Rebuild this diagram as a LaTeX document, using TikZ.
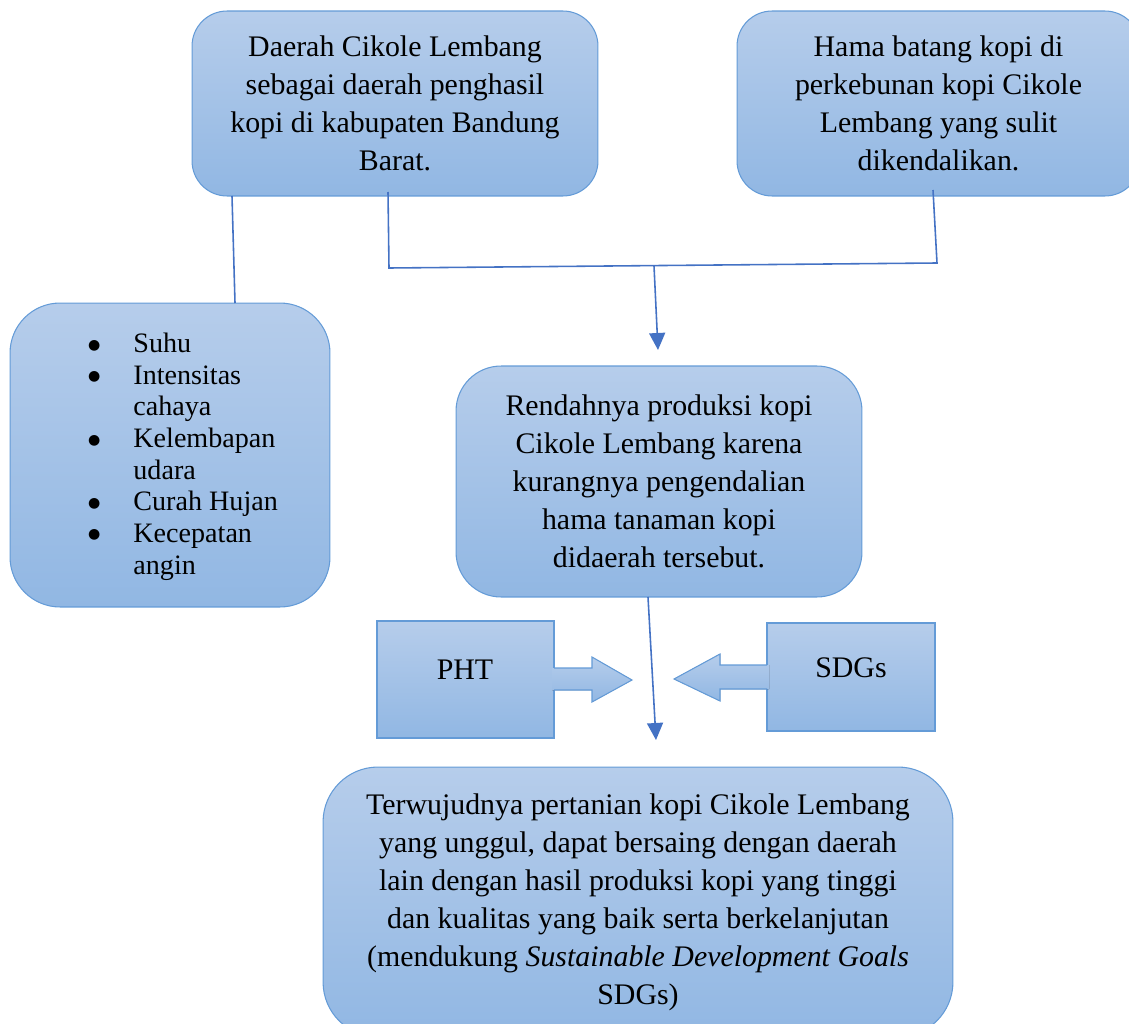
\documentclass[tikz,border=0pt]{standalone}
\usepackage{fontspec}
\setmainfont{Liberation Serif}
\newfontfamily\simbol{DejaVu Sans}
\usetikzlibrary{arrows.meta}

\definecolor{boxtop}{RGB}{182,205,235}
\definecolor{boxbottom}{RGB}{145,183,227}
\definecolor{boxline}{RGB}{100,155,215}
\definecolor{linkblue}{RGB}{68,114,196}

\newcommand{\titik}{\raisebox{2pt}{\simbol\fontsize{8}{8}\selectfont ●}}

\begin{document}
\begin{tikzpicture}[x=0.02cm, y=-0.02cm,
    box/.style={draw=boxline, line width=0.6pt, top color=boxtop, bottom color=boxbottom,
      align=center, inner sep=0pt, font=\fontsize{17}{21.6}\selectfont},
    label text/.style={font=\fontsize{17}{21.6}\selectfont},
    arrowfill/.style={top color=boxtop, bottom color=boxbottom},
    arrowline/.style={draw=boxline, line width=0.6pt, line join=miter},
    link/.style={draw=linkblue, line width=0.9pt},
    tip/.style={-{Triangle[length=0.34cm, width=0.32cm]}}]

    % ukuran gambar
    \useasboundingbox (0,0) rectangle (1129,1024);

    % kotak atas
    \node[box, minimum width=8.12cm, minimum height=3.7cm, rounded corners=0.7cm] (daerah) at (395,103.5)
        {Daerah Cikole Lembang\\ sebagai daerah penghasil\\ kopi di kabupaten Bandung\\ Barat.};
    \node[box, minimum width=8.06cm, minimum height=3.7cm, rounded corners=0.7cm] (hama) at (938.5,103.5)
        {Hama batang kopi di\\ perkebunan kopi Cikole\\ Lembang yang sulit\\ dikendalikan.};

    % kotak faktor lingkungan
    \node[box, minimum width=6.4cm, minimum height=6.08cm, rounded corners=1cm] (faktor) at (170,455) {};
    \node[font=\fontsize{16}{18}\selectfont, inner sep=0pt] (faktorisi) at (183,457)
        {\begin{tabular}{@{}l@{\hspace{0.66cm}}l@{}}
            \titik & Suhu\\
            \titik & Intensitas\\
                   & cahaya\\
            \titik & Kelembapan\\
                   & udara\\
            \titik & Curah Hujan\\
            \titik & Kecepatan\\
                   & angin
        \end{tabular}};

    % kotak masalah
    \node[box, minimum width=8.12cm, minimum height=4.62cm, rounded corners=0.9cm] (rendah) at (659,481.5)
        {Rendahnya produksi kopi\\ Cikole Lembang karena\\ kurangnya pengendalian\\ hama tanaman kopi\\ didaerah tersebut.};

    % PHT dan SDGs
    \node[box, minimum width=3.54cm, minimum height=2.34cm] (pht) at (465.5,679.5) {};
    \node[label text] (phttext) at (465,670) {PHT};
    \node[box, minimum width=3.36cm, minimum height=2.16cm] (sdgs) at (851,677) {};
    \node[label text] (sdgstext) at (851,668) {SDGs};

    % panah blok
    \fill[arrowfill] (552,668) -- (592,668) -- (592,657) -- (632,680) -- (592,702) -- (592,690) -- (552,690) -- cycle;
    \draw[arrowline] (554,668) -- (592,668) -- (592,657) -- (632,680) -- (592,702) -- (592,690) -- (554,690);
    \fill[arrowfill] (769,665) -- (720,665) -- (720,654) -- (674,679) -- (720,701) -- (720,689) -- (769,689) -- cycle;
    \draw[arrowline] (767,665) -- (720,665) -- (720,654) -- (674,679) -- (720,701) -- (720,689) -- (767,689);

    % kotak tujuan
    \node[box, minimum width=12.6cm, minimum height=5.4cm, rounded corners=1.1cm] (tujuan) at (638,902)
        {Terwujudnya pertanian kopi Cikole Lembang\\ yang unggul, dapat bersaing dengan daerah\\
         lain dengan hasil produksi kopi yang tinggi\\ dan kualitas yang baik serta berkelanjutan\\
         (mendukung \textit{Sustainable Development Goals}\\ SDGs)};

    % titik sambungan
    \coordinate (daerahkiri) at (232,196);
    \coordinate (faktoratas) at (235,303);
    \coordinate (daerahkanan) at (388,192);
    \coordinate (gabungkiri) at (389,268);
    \coordinate (gabungkanan) at (937,263);
    \coordinate (hamabawah) at (933,190);
    \coordinate (gabungtengah) at (654,266);
    \coordinate (rendahatas) at (658,350);
    \coordinate (rendahbawah) at (648,597);
    \coordinate (tujuanatas) at (656,740);

    % garis penghubung
    \draw[link] (daerahkiri) -- (faktoratas);
    \draw[link] (daerahkanan) -- (gabungkiri) -- (gabungkanan) -- (hamabawah);
    \draw[link, tip] (gabungtengah) -- (rendahatas);
    \draw[link, tip] (rendahbawah) -- (tujuanatas);

\end{tikzpicture}
\end{document}
